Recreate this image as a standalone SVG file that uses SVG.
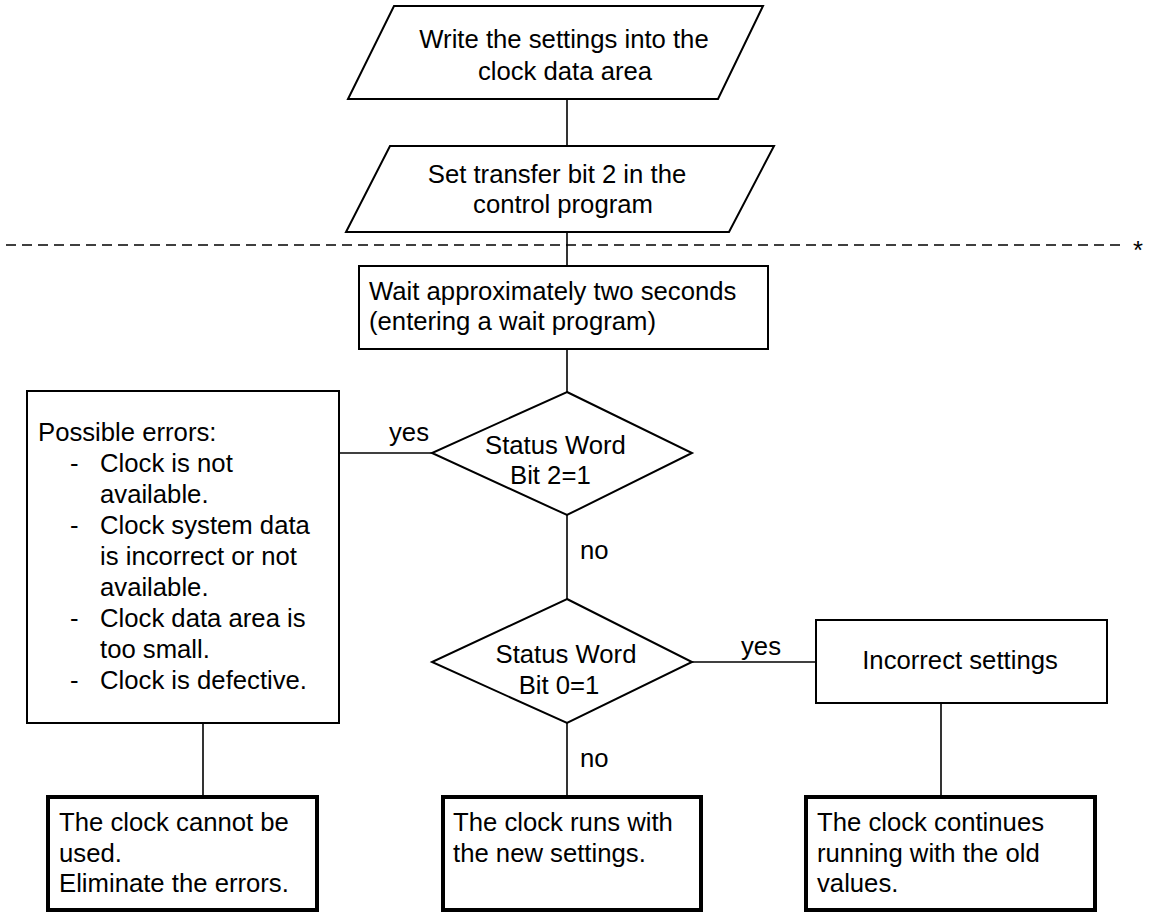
<svg xmlns="http://www.w3.org/2000/svg" width="1149" height="913" viewBox="0 0 1149 913">
<style>
  text { font-family: "Liberation Sans", Arial, sans-serif; font-size: 25.7px; fill: #000; }
  .c { text-anchor: middle; }
  .shape { fill: #fff; stroke: #000; stroke-width: 2; }
  .term { fill: #fff; stroke: #000; stroke-width: 4; }
  .conn line { stroke: #000; stroke-width: 1.6; }
  .dash { stroke: #000; stroke-width: 1.6; stroke-dasharray: 10 6; }
</style>
<rect width="1149" height="913" fill="#fff"/>
<g id="separator">
  <line class="dash" x1="6" y1="245" x2="1124" y2="245"/>
  <text x="1133" y="259">*</text>
</g>
<g class="conn" id="connectors">
  <line x1="567" y1="99" x2="567" y2="146"/>
  <line x1="567" y1="232" x2="567" y2="266"/>
  <line x1="567" y1="349" x2="567" y2="392"/>
  <line x1="339" y1="453" x2="432" y2="453"/>
  <line x1="567" y1="515" x2="567" y2="599"/>
  <line x1="692" y1="662" x2="816" y2="662"/>
  <line x1="567" y1="723" x2="567" y2="797"/>
  <line x1="203" y1="723" x2="203" y2="797"/>
  <line x1="941" y1="703" x2="941" y2="797"/>
  <text x="389" y="441">yes</text>
  <text x="580" y="559">no</text>
  <text x="741" y="655">yes</text>
  <text x="580" y="767">no</text>
</g>
<g id="write-settings">
  <polygon class="shape" points="394,6 763,6 718,99 348,99"/>
  <text class="c" x="564" y="48">Write the settings into the</text>
  <text class="c" x="565" y="80">clock data area</text>
</g>
<g id="set-transfer-bit">
  <polygon class="shape" points="390,146 774,146 729,232 346,232"/>
  <text class="c" x="557" y="183">Set transfer bit 2 in the</text>
  <text class="c" x="563" y="213">control program</text>
</g>
<g id="wait">
  <rect class="shape" x="359" y="266" width="409" height="83"/>
  <text x="369" y="300">Wait approximately two seconds</text>
  <text x="369" y="330">(entering a wait program)</text>
</g>
<g id="decision-bit2">
  <polygon class="shape" points="567,392 692,453 567,515 432,453"/>
  <text x="485" y="454">Status Word</text>
  <text x="510" y="484">Bit 2=1</text>
</g>
<g id="possible-errors">
  <rect class="shape" x="27" y="391" width="312" height="332"/>
  <text x="38" y="441">Possible errors:</text>
  <text x="70" y="472">-</text><text x="100" y="472">Clock is not</text>
  <text x="100" y="503">available.</text>
  <text x="70" y="534">-</text><text x="100" y="534">Clock system data</text>
  <text x="100" y="565">is incorrect or not</text>
  <text x="100" y="596">available.</text>
  <text x="70" y="627">-</text><text x="100" y="627">Clock data area is</text>
  <text x="100" y="658">too small.</text>
  <text x="70" y="689">-</text><text x="100" y="689">Clock is defective.</text>
</g>
<g id="decision-bit0">
  <polygon class="shape" points="567,599 692,662 567,723 432,662"/>
  <text class="c" x="566" y="663">Status Word</text>
  <text class="c" x="559" y="694">Bit 0=1</text>
</g>
<g id="incorrect-settings">
  <rect class="shape" x="816" y="620" width="291" height="83"/>
  <text class="c" x="960" y="669">Incorrect settings</text>
</g>
<g id="cannot-be-used">
  <rect class="term" x="48" y="797" width="269" height="113"/>
  <text x="59" y="831">The clock cannot be</text>
  <text x="59" y="862">used.</text>
  <text x="59" y="892">Eliminate the errors.</text>
</g>
<g id="runs-new">
  <rect class="term" x="443" y="797" width="258" height="113"/>
  <text x="453" y="831">The clock runs with</text>
  <text x="453" y="862">the new settings.</text>
</g>
<g id="continues-old">
  <rect class="term" x="806" y="797" width="289" height="113"/>
  <text x="817" y="831">The clock continues</text>
  <text x="817" y="862">running with the old</text>
  <text x="817" y="892">values.</text>
</g>
</svg>
